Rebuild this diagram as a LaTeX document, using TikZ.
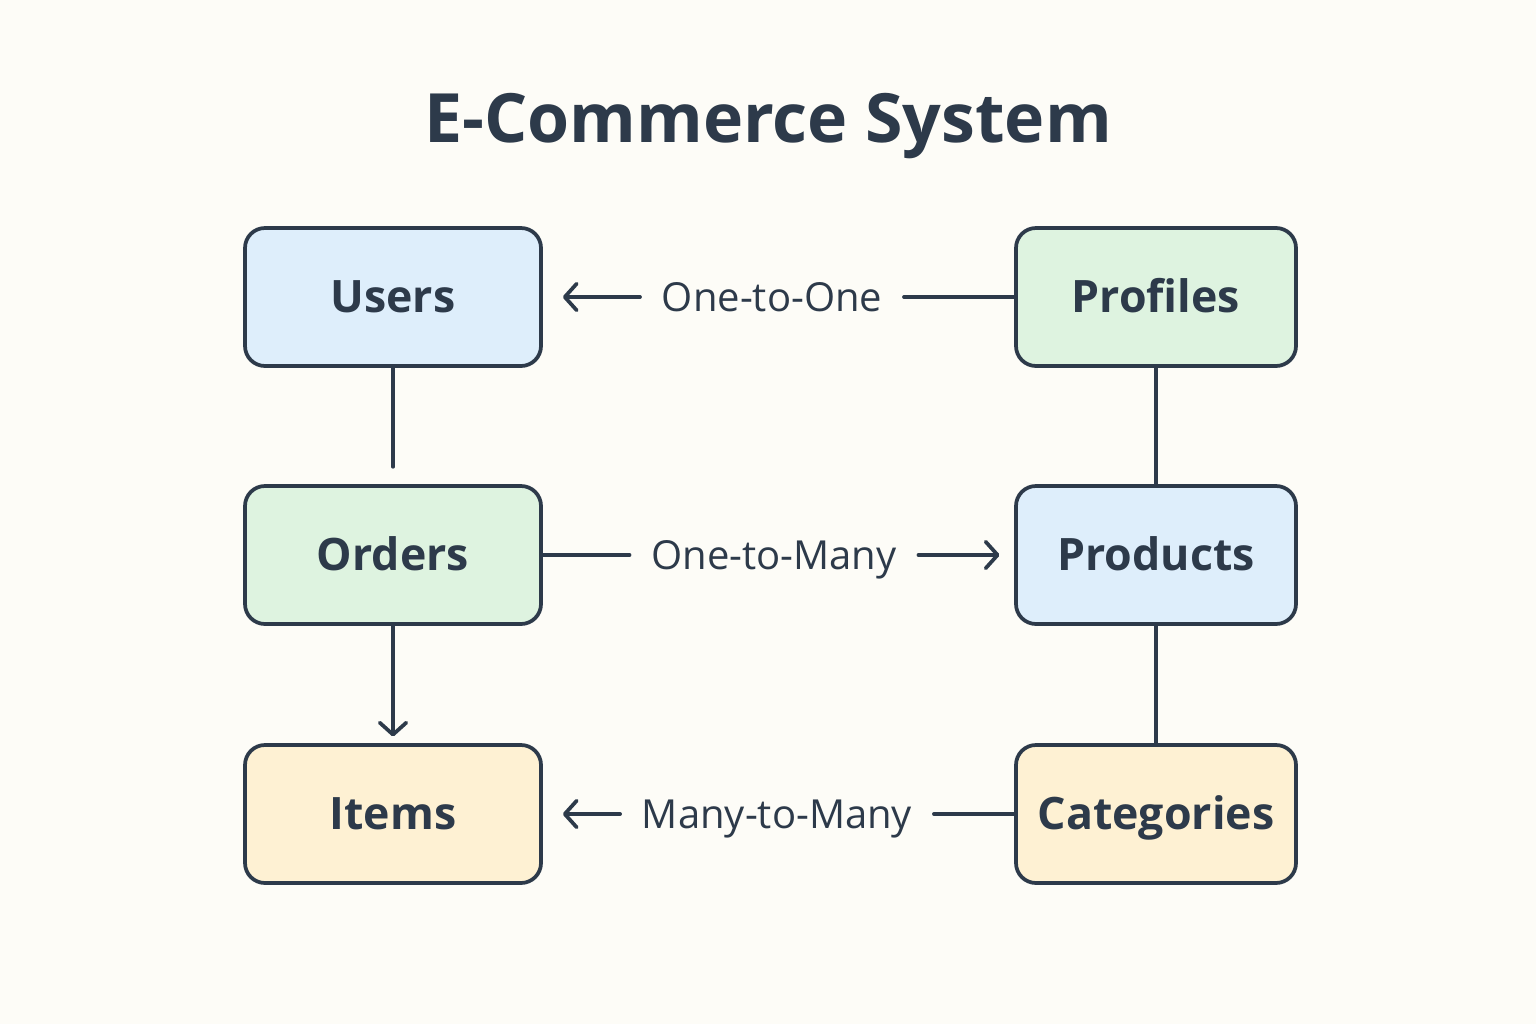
\documentclass[tikz,border=0pt]{standalone}
\usepackage{fontspec}
\setmainfont{Open Sans}
\usetikzlibrary{arrows.meta}

\definecolor{ink}{RGB}{45,58,74}
\definecolor{paper}{RGB}{253,252,247}
\definecolor{entblue}{RGB}{222,238,251}
\definecolor{entgreen}{RGB}{222,243,224}
\definecolor{entyellow}{RGB}{254,241,211}

\tikzset{every picture/.style={line width=0.75pt}}
\tikzset{
  entity/.style={draw=ink, line width=2.8pt, rounded corners=15pt, minimum height=103.5pt,
    text=ink, text height=29.6pt, text depth=6pt, font=\fontsize{33.5}{40}\selectfont\bfseries},
  relname/.style={text=ink, inner xsep=16pt, text height=27.4pt, text depth=6pt,
    font=\fontsize{30}{36}\selectfont},
  link/.style={draw=ink, line width=2.8pt, line cap=round},
  linkto/.style={link, -{Straight Barb[length=9pt,width=20pt,line width=2.8pt,round]}},
}

\begin{document}
\begin{tikzpicture}[x=0.75pt,y=0.75pt,yscale=-1,xscale=1]
\fill[paper] (0,0) rectangle (1536,1024);
\useasboundingbox (0,0) rectangle (1536,1024);

% Title
\node[text=ink, text height=45pt, text depth=8pt, font=\fontsize{51}{60}\selectfont\bfseries] (title) at (768,118) {E-Commerce System};

% Entities
\node[entity, fill=entblue, minimum width=222pt] (users) at (393,297) {Users};
\node[entity, fill=entgreen, minimum width=210pt] (profiles) at (1156,297) {Profiles};
\node[entity, fill=entgreen, minimum width=222pt] (orders) at (393,555) {Orders};
\node[entity, fill=entblue, minimum width=210pt] (products) at (1156,555) {Products};
\node[entity, fill=entyellow, minimum width=222pt] (items) at (393,814) {Items};
\node[entity, fill=entyellow, minimum width=210pt] (categories) at (1156,814) {Categories};

% Relation labels
\node[relname] (onetoone) at (772,297) {One-to-One};
\node[relname] (onetomany) at (774,555) {One-to-Many};
\node[relname] (manytomany) at (777,814) {Many-to-Many};

% Horizontal links
\draw[link] (profiles) -- (onetoone);
\draw[linkto, shorten >=15pt] (onetoone) -- (users);
\draw[link] (orders) -- (onetomany);
\draw[linkto, shorten >=11pt] (onetomany) -- (products);
\draw[link] (categories) -- (manytomany);
\draw[linkto, shorten >=15pt] (manytomany) -- (items);

% Vertical links
\draw[link, shorten >=13pt] (users) -- (orders);
\draw[linkto, shorten >=5pt] (orders) -- (items);
\draw[link] (profiles) -- (products);
\draw[link] (products) -- (categories);

\end{tikzpicture}
\end{document}
